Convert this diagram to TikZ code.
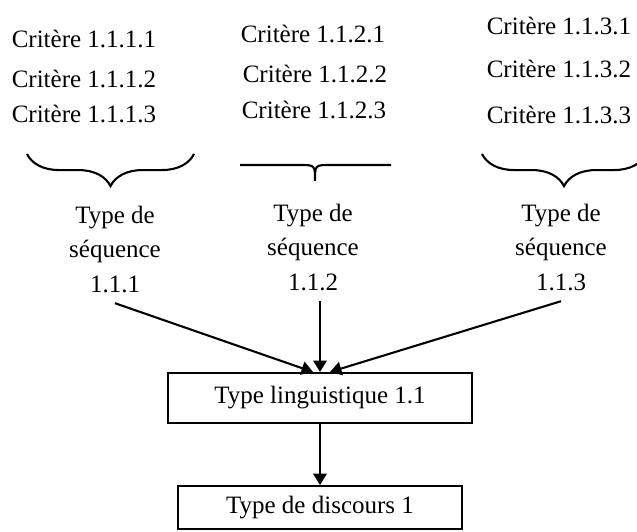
\documentclass[tikz,border=0pt]{standalone}
\usepackage{fontspec}
\setmainfont{Liberation Serif}
\usetikzlibrary{arrows.meta,calc,decorations.pathreplacing}
\tikzstyle{critere}=[inner sep=0pt,anchor=base]
\tikzstyle{typeseq}=[inner sep=5pt,align=center,anchor=base]
\tikzstyle{typebox}=[draw,line width=1pt,inner sep=0pt]
\tikzstyle{accolade}=[line width=1pt,decorate,decoration={brace,mirror,amplitude=15.4pt}]

\begin{document}
\begin{tikzpicture}[x=0.48pt,y=-0.48pt,>={Triangle[length=5.5pt,width=6.5pt]},font=\fontsize{12}{16.5}\selectfont]
\useasboundingbox (0,0) rectangle (637,531);

    \foreach \pos/\name/\label in {{(84,47)/c1/1.1.1.1}, {(84,87)/c2/1.1.1.2}, {(84,122)/c3/1.1.1.3}}
        \node[critere] (\name) at \pos {Critère \label};

    \foreach \pos/\name/\label in {{(313,42)/d1/1.1.2.1}, {(315,82)/d2/1.1.2.2}, {(314,118)/d3/1.1.2.3}}
        \node[critere] (\name) at \pos {Critère \label};

    \foreach \pos/\name/\label in {{(559,34)/e1/1.1.3.1}, {(559,77)/e2/1.1.3.2}, {(559,123)/e3/1.1.3.3}}
        \node[critere] (\name) at \pos {Critère \label};

    % accolades
    \draw[accolade] (27,154) -- (194,154);
    \draw[line width=1pt] (240,165) -- (300,165) .. controls (315,165) .. (315,181)
        .. controls (315,165) .. (330,165) -- (391,165);
    \draw[accolade] (482,154) -- (646,154);

    \foreach \pos/\name/\label in {{(115,292)/t1/1.1.1}, {(313,290)/t2/1.1.2}, {(561,290)/t3/1.1.3}}
        \node[typeseq] (\name) at \pos {Type de\\séquence\\\label};

    \node[typebox, minimum width=146pt, minimum height=24pt] (ling) at (320,398) {Type linguistique 1.1};
    \node[typebox, minimum width=136.3pt, minimum height=20.6pt] (disc) at (320,507.5) {Type de discours 1};

       \draw[line width=1pt, ->] (t1.south) to ($(ling.north)+(-7,0)$);
       \draw[line width=1pt, ->] (t2.south -| ling.north) to (ling.north);
       \draw[line width=1pt, ->] (t3.south) to ($(ling.north)+(10,0)$);

       \draw[line width=1pt, ->] (ling) to (disc);

\end{tikzpicture}
\end{document}
